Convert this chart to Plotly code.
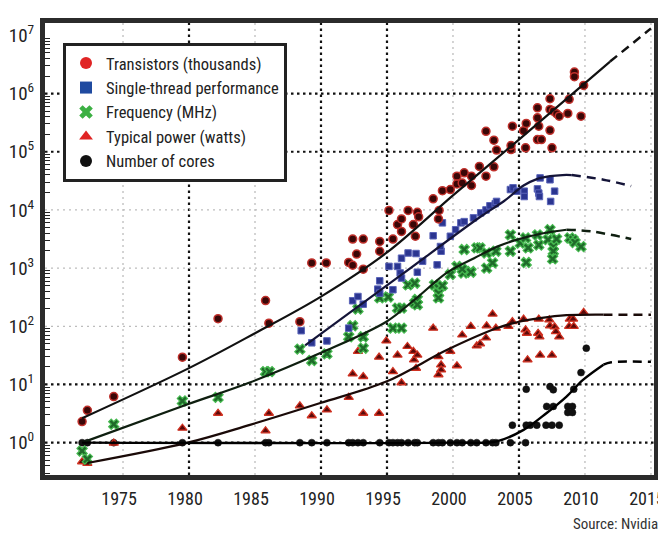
import plotly.graph_objects as go

# ---------------- data ----------------
tr_year = [1971.9, 1972.3, 1974.3, 1979.5, 1982.2, 1985.8, 1986.05, 1988.4, 1989.3, 1990.4,
           1992.1, 1992.4, 1993.2, 1992.4, 1993.2, 1992.7, 1994.45, 1994.45, 1995.15, 1995.45,
           1995.8, 1996.1, 1996.1, 1996.6, 1997.0, 1997.15, 1997.3, 1997.4, 1998.5, 1998.9,
           1998.95, 1999.2, 1999.8, 2000.3, 2000.3, 2000.85, 2000.7, 2001.4, 2001.4, 2002.0,
           2002.5, 2003.1, 2002.5, 2003.1, 2003.3, 2004.4, 2004.5, 2004.4, 2005.35, 2005.55,
           2005.5, 2006.4, 2006.4, 2006.5, 2006.4, 2006.7, 2007.35, 2007.35, 2007.6, 2007.85,
           2008.05, 2007.35, 2007.5, 2008.7, 2008.8, 2009.2, 2009.2, 2009.7, 2009.9]
tr_val = [2.3, 3.6, 6.2, 29.5, 135, 277, 113, 120, 1230, 1230,
          1250, 1120, 960, 3160, 3160, 1740, 2880, 1950, 9800, 3160,
          5600, 7000, 4270, 9800, 5600, 3530, 9100, 7600, 15500, 7000,
          9800, 21400, 22400, 38000, 28000, 43500, 29000, 38000, 26300, 56000,
          38000, 55000, 224000, 158000, 107000, 109000, 275000, 128000, 230000, 307000,
          117000, 570000, 383000, 275000, 162000, 162000, 815000, 535000, 500000, 450000,
          408000, 234000, 117000, 455000, 795000, 2340000, 1950000, 408000, 1380000]

st_year = [1988.5, 1989.3, 1990.45, 1992.1, 1992.4, 1992.8, 1993.2, 1994.45, 1994.3, 1994.45,
           1995.45, 1995.15, 1995.8, 1996.0, 1996.1, 1996.1, 1996.6, 1997.2, 1997.3, 1997.7,
           1998.8, 1999.1, 1999.05, 1998.5, 1999.8, 2000.2, 1999.2, 2000.6, 2000.85, 2001.55,
           2002.1, 2002.5, 2002.8, 2003.2, 2003.3, 2004.35, 2004.55, 2004.85, 2005.4, 2005.4,
           2006.4, 2006.5, 2006.55, 2006.6, 2007.35, 2007.4, 2007.7]
st_val = [84, 52, 56, 93, 275, 325, 240, 605, 435, 372,
          425, 1070, 1070, 825, 675, 1480, 1820, 1780, 850, 1310,
          1140, 1950, 2350, 3600, 3530, 4570, 6000, 6000, 6300, 7300,
          8900, 10000, 11800, 12800, 14000, 22400, 24000, 21000, 21000, 17000,
          23000, 19500, 17000, 35500, 33000, 14000, 21000]

fq_year = [1971.9, 1972.3, 1974.3, 1979.5, 1982.2, 1985.8, 1986.1, 1988.4, 1989.3, 1990.45,
           1992.1, 1992.4, 1992.8, 1993.2, 1993.2, 1994.45, 1995.1, 1995.45, 1996.1, 1995.8,
           1996.1, 1996.6, 1997.1, 1997.1, 1997.3, 1997.3, 1998.6, 1998.9, 1998.9, 1998.9,
           1999.2, 1999.8, 2000.3, 2000.8, 2001.35, 2000.85, 2001.8, 2000.7, 2001.35, 2002.05,
           2002.55, 2003.0, 2003.25, 2002.55, 2004.35, 2004.35, 2005.1, 2005.5, 2005.7, 2005.55,
           2006.4, 2006.5, 2007.35, 2007.2, 2007.6, 2007.85, 2007.6, 2007.55, 2008.85, 2009.1,
           2009.25, 2009.7]
fq_val = [0.72, 0.52, 2.07, 5.2, 6.0, 16.6, 16.6, 40.5, 25.8, 33.6,
          66, 102, 198, 66, 42, 308, 318, 93, 93, 205,
          205, 515, 550, 250, 290, 235, 515, 455, 370, 308,
          500, 775, 1070, 825, 875, 2090, 2230, 960, 850, 2230,
          1000, 1230, 1950, 1820, 3720, 1950, 2690, 3300, 2230, 1250,
          3720, 2500, 4570, 3090, 2340, 3160, 1950, 1440, 3300, 3090,
          2750, 2340]

pw_year = [1971.9, 1972.3, 1974.3, 1979.5, 1982.2, 1985.8, 1986.05, 1988.4, 1989.3, 1990.45,
           1992.1, 1992.8, 1992.4, 1993.2, 1993.2, 1994.4, 1994.4, 1994.95, 1995.45, 1995.8,
           1996.1, 1996.55, 1997.0, 1997.05, 1997.3, 1997.2, 1998.5, 1998.9, 1999.1, 1999.1,
           1998.9, 1999.8, 2000.3, 2000.7, 2001.35, 2001.8, 2002.05, 2002.5, 2002.55, 2003.0,
           2003.25, 2004.2, 2004.5, 2005.35, 2005.5, 2005.6, 2005.65, 2006.5, 2006.45, 2006.55,
           2006.6, 2007.5, 2007.3, 2007.35, 2007.7, 2007.8, 2008.05, 2008.85, 2009.1, 2008.8,
           2009.15, 2009.9]
pw_val = [0.47, 0.44, 0.98, 1.77, 3.2, 1.6, 3.2, 4.3, 2.9, 3.65,
          6.0, 37, 15.2, 13.7, 3.2, 29.5, 3.2, 56, 16.6, 32,
          10.7, 45, 37, 26.5, 32, 19, 93, 30, 21.7, 17.8,
          14.7, 37, 21, 71, 100, 46, 50, 63, 102, 162,
          93, 100, 120, 133, 87, 76, 26.5, 133, 76, 66,
          32, 32, 129, 102, 98, 81, 66, 133, 133, 100,
          100, 173]

co_year = [1971.9, 1972.3, 1974.3, 1979.5, 1982.2, 1985.8, 1986.05, 1988.4, 1989.3, 1990.45,
           1992.1, 1992.4, 1992.8, 1993.2, 1994.45, 1995.15, 1995.45, 1995.8, 1996.1, 1996.6,
           1997.1, 1997.3, 1998.5, 1998.9, 1999.2, 1999.8, 2000.3, 2000.7, 2001.35, 2001.8,
           2002.5, 2003.0, 2003.25, 2004.35, 2005.5,
           2004.5, 2005.55, 2005.85, 2006.35, 2007.05, 2007.5, 2008.05, 2005.55, 2007.1, 2007.6,
           2007.35, 2007.6, 2008.7, 2009.05, 2008.7, 2009.05, 2009.15, 2009.7, 2010.1]
co_val = [1] * 35 + [2, 2, 2, 2, 2, 2, 2, 8.3, 4.2, 4.2,
                     9.2, 8.1, 4.2, 4.2, 3.3, 3.3, 8.3, 16, 42]

# trend (fit) curves: solid part and dashed extrapolation
tr_fit_year = [1971.9, 1980, 1985, 1990, 1995, 2000, 2005, 2010, 2011.9]
tr_fit_val = [2.63, 19.1, 76, 324, 1860, 17800, 162000, 1510000, 3550000]
tr_ext_year = [2011.9, 2015]
tr_ext_val = [3550000, 13200000]

st_fit_year = [1988.8, 1996.0, 2002.0, 2003.85, 2005.35, 2006.35, 2007.35, 2008.3, 2009.0]
st_fit_val = [46.8, 741, 7410, 14100, 26300, 33900, 38000, 39800, 39800]
st_ext_year = [2009.0, 2011.4, 2013.5]
st_ext_val = [39800, 33100, 25700]

fq_fit_year = [1971.9, 1979.9, 1984.55, 1989.95, 1994.95, 1997.1, 1999.6, 2001.6, 2003.35,
               2004.85, 2006.85, 2008.6]
fq_fit_val = [1.0, 4.57, 10.7, 34.7, 120, 288, 851, 1480, 2340, 3090, 3980, 4570]
fq_ext_year = [2008.6, 2010.5, 2013.5]
fq_ext_val = [4570, 4270, 3160]

pw_fit_year = [1972.3, 1979.9, 1984.55, 1989.95, 1994.95, 1999.6, 2003.35, 2004.85, 2006.6,
               2008.6, 2011.4]
pw_fit_val = [0.447, 1.0, 2.0, 4.79, 11.2, 39.8, 93.3, 117.5, 138, 155, 158.5]
pw_ext_year = [2011.4, 2015]
pw_ext_val = [158.5, 158.5]

co_fit_year = [1971.9, 2000.0, 2003.3, 2005.35, 2007.1, 2008.6, 2009.85, 2011.4]
co_fit_val = [1, 1, 1.05, 1.66, 3.24, 6.2, 12.0, 21.9]
co_ext_year = [2011.4, 2012.0, 2015]
co_ext_val = [21.9, 24, 24.5]

x_ticks = [1975, 1980, 1985, 1990, 1995, 2000, 2005, 2010, 2015]
y_tick_exp = [0, 1, 2, 3, 4, 5, 6, 7]
grid_x_heavy = [1980, 1990, 1995, 2005]
grid_x_light = [1975, 1985, 2000, 2010, 2015]
grid_y_heavy = [1, 10, 1e5, 1e6]
grid_y_light = [100, 1e3, 1e4]

legend_names = ["Transistors (thousands)", "Single-thread performance", "Frequency (MHz)",
                "Typical power (watts)", "Number of cores"]

# ---------------- figure ----------------
FONT = "Liberation Sans Narrow, Roboto Condensed, DejaVu Sans Condensed, sans-serif"
fig = go.Figure()

def line(xs, ys, color, dash="solid", width=2.2):
    fig.add_trace(go.Scatter(x=xs, y=ys, mode="lines", showlegend=False, hoverinfo="skip",
                             line=dict(color=color, width=width, dash=dash, shape="spline", smoothing=1.0)))

def pts(xs, ys, symbol, size, fill, edge, ew):
    fig.add_trace(go.Scatter(x=xs, y=ys, mode="markers", showlegend=False,
                             marker=dict(symbol=symbol, size=size, color=fill,
                                         line=dict(color=edge, width=ew))))

pts(co_year, co_val, "circle", 7, "#111111", "#111111", 0.5)
pts(pw_year, pw_val, "triangle-up", 8, "#5a0a0a", "#d03020", 1.3)
pts(fq_year, fq_val, "x", 9, "#1f6a2a", "#45b84f", 1.2)
pts(st_year, st_val, "square", 6.5, "#2b3590", "#5a64b8", 1)
pts(tr_year, tr_val, "circle", 8, "#3a0707", "#c0302b", 1.5)

DASH = "9px,6px"
line(tr_fit_year, tr_fit_val, "#111111")
line(tr_ext_year, tr_ext_val, "#111111", DASH, 2.5)
line(st_fit_year, st_fit_val, "#141438")
line(st_ext_year, st_ext_val, "#141438", DASH, 2.5)
line(fq_fit_year, fq_fit_val, "#0f1f10")
line(fq_ext_year, fq_ext_val, "#0f1f10", DASH, 2.5)
line(pw_fit_year, pw_fit_val, "#1a0a08")
line(pw_ext_year, pw_ext_val, "#1a0a08", DASH, 2.5)
line(co_fit_year, co_fit_val, "#000000", width=2.4)
line(co_ext_year, co_ext_val, "#000000", DASH, 2.5)

legend_style = [("circle", "#e02424", 10), ("square", "#1f4aa0", 10), ("x", "#3cb043", 11),
                ("triangle-up", "#e02424", 10), ("circle", "#111111", 10)]
for name, (sym, col, sz) in zip(legend_names, legend_style):
    fig.add_trace(go.Scatter(x=[None], y=[None], mode="markers", name=name,
                             marker=dict(symbol=sym, color=col, size=sz, line=dict(width=0))))

shapes = []
for yr in grid_x_light:
    shapes.append(dict(type="line", xref="x", yref="paper", x0=yr, x1=yr, y0=0, y1=1, layer="below",
                       line=dict(color="#bdbdbd", width=1.3, dash="2px,4px")))
for yr in grid_x_heavy:
    shapes.append(dict(type="line", xref="x", yref="paper", x0=yr, x1=yr, y0=0, y1=1, layer="below",
                       line=dict(color="#111111", width=2.2, dash="2.5px,3.5px")))
for v in grid_y_light:
    shapes.append(dict(type="line", xref="paper", yref="y", x0=0, x1=1, y0=v, y1=v, layer="below",
                       line=dict(color="#bdbdbd", width=1.3, dash="2px,4px")))
for v in grid_y_heavy:
    shapes.append(dict(type="line", xref="paper", yref="y", x0=0, x1=1, y0=v, y1=v, layer="below",
                       line=dict(color="#111111", width=2.2, dash="2.5px,3.5px")))

minor_vals = [k * 10 ** e for e in range(-1, 8) for k in range(2, 10)]

FRAME = dict(showline=True, linewidth=5, linecolor="#2b2b2b", mirror=True)

# the page body adds an 8px margin, so the figure is 8px smaller and margins shifted
fig.update_layout(
    width=658, height=527,
    margin=dict(l=37, r=12, t=15, b=60),
    paper_bgcolor="white", plot_bgcolor="rgba(0,0,0,0)",
    font=dict(family=FONT, color="#222222", size=19),
    shapes=shapes,
    showlegend=True,
    legend=dict(x=0.0296, y=0.956, xanchor="left", yanchor="top", bgcolor="white",
                bordercolor="#222222", borderwidth=3, font=dict(family=FONT, size=16.5, color="#222222"),
                itemsizing="constant", tracegroupgap=0),
    xaxis=dict(range=[1969.09, 2015.23], tickmode="array", tickvals=x_ticks,
               ticktext=[str(t) for t in x_ticks], showgrid=False, zeroline=False,
               ticks="", tickfont=dict(size=18), ticklabelstandoff=3, ticklabelshift=-4,
               ticklabeloverflow="allow", automargin=False, **FRAME),
    yaxis=dict(type="log", range=[-0.556, 7.213], tickmode="array",
               tickvals=[10 ** e for e in y_tick_exp],
               ticktext=["10<sup>%d</sup>" % e for e in y_tick_exp],
               showgrid=False, zeroline=False, ticks="",
               tickfont=dict(size=19), automargin=False, ticklabelstandoff=2,
               minor=dict(tickmode="array", tickvals=minor_vals, ticks="inside", ticklen=5,
                          tickcolor="#222222", tickwidth=1, showgrid=False), **FRAME),
    annotations=[dict(text="Source: Nvidia", xref="paper", yref="paper", x=1.01, y=-0.108,
                      xanchor="right", yanchor="middle", showarrow=False,
                      font=dict(family=FONT, size=15, color="#333333"))],
)

fig.write_html("out.html")
